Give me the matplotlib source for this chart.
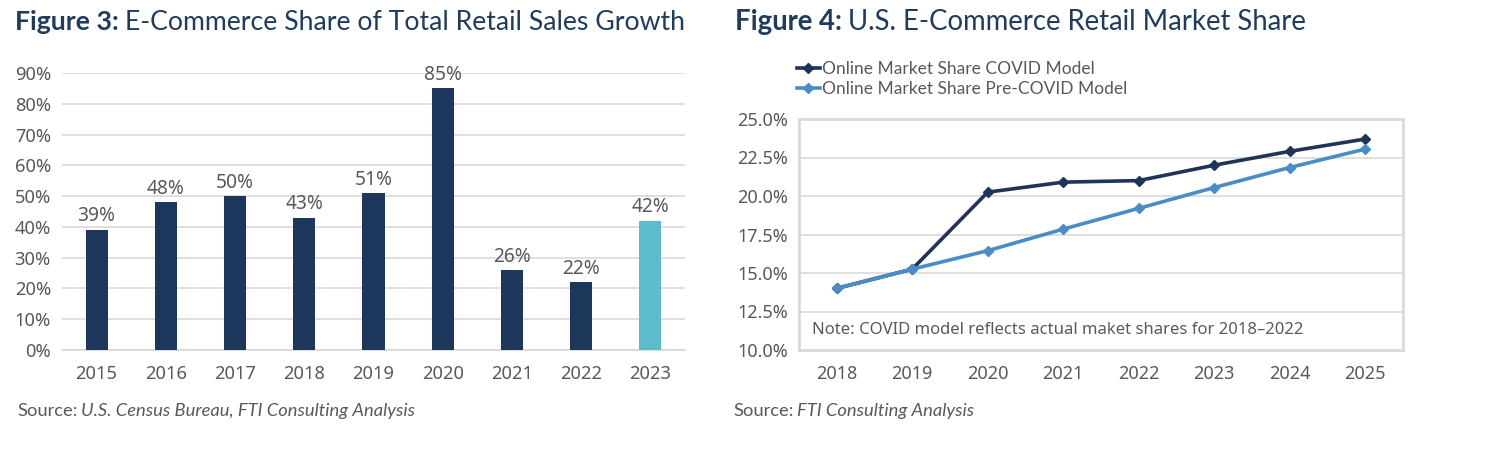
import matplotlib
matplotlib.use("Agg")
import matplotlib.pyplot as plt
from matplotlib.ticker import FuncFormatter, MultipleLocator

# ---- data ----
bar_years = ["2015", "2016", "2017", "2018", "2019", "2020", "2021", "2022", "2023"]
bar_values = [39, 48, 50, 43, 51, 85, 26, 22, 42]

line_years = ["2018", "2019", "2020", "2021", "2022", "2023", "2024", "2025"]
covid_model = [14.0, 15.25, 20.25, 20.9, 21.0, 22.0, 22.9, 23.7]
precovid_model = [14.0, 15.25, 16.45, 17.85, 19.2, 20.55, 21.85, 23.05]

NAVY = "#1d365c"
TEAL = "#5bbccd"
LIGHT = "#4a8cc3"
DARKLINE = "#1e3458"
TITLE_C = "#1f3b5e"
TXT = "#595959"
GRID = "#d9d9d9"

TICK_FONT = ["Noto Sans", "DejaVu Sans"]
TITLE_FONT = ["Lato", "DejaVu Sans"]

W, H = 1488, 462
fig = plt.figure(figsize=(W / 100, H / 100), dpi=100)


def fx(px):
    return px / W


def fy(py):
    return 1 - py / H


# ---- Figure 3: bars ----
ax1 = fig.add_axes([fx(62), fy(350), fx(685) - fx(62), fy(73) - fy(350)])
x1 = list(range(len(bar_years)))
colors = [NAVY] * (len(bar_years) - 1) + [TEAL]
ax1.bar(x1, [v / 100 for v in bar_values], width=0.32, color=colors, zorder=3)
for xi, v in zip(x1, bar_values):
    ax1.annotate(f"{v}%", (xi, v / 100), xytext=(0, 2.5), textcoords="offset points",
                 ha="center", va="bottom", fontsize=13.8, color=TXT, family=TICK_FONT)
ax1.set_xlim(-0.5, len(bar_years) - 0.5)
ax1.set_ylim(0, 0.9)
ax1.yaxis.set_major_locator(MultipleLocator(0.1))
ax1.yaxis.set_major_formatter(FuncFormatter(lambda v, p: f"{v*100:.0f}%"))
ax1.set_xticks(x1)
ax1.set_xticklabels(bar_years)
ax1.grid(axis="y", color=GRID, linewidth=1.2, zorder=0)
for s in ["top", "right", "left"]:
    ax1.spines[s].set_visible(False)
ax1.spines["bottom"].set_color(GRID)
ax1.spines["bottom"].set_linewidth(1.2)
ax1.tick_params(axis="both", length=0, labelsize=13.2, labelcolor=TXT)
ax1.tick_params(axis="x", pad=11)
ax1.tick_params(axis="y", pad=8)
for lab in ax1.get_xticklabels() + ax1.get_yticklabels():
    lab.set_family(TICK_FONT)

# ---- Figure 4: lines ----
ax2 = fig.add_axes([fx(799), fy(350), fx(1403) - fx(799), fy(119) - fy(350)])
x2 = list(range(len(line_years)))
ax2.plot(x2, precovid_model, color=LIGHT, linewidth=2.6, marker="D", markersize=5,
         label="Online Market Share Pre-COVID Model", zorder=3)
ax2.plot(x2, covid_model, color=DARKLINE, linewidth=2.6, marker="D", markersize=5,
         label="Online Market Share COVID Model", zorder=2)
ax2.plot(x2[:2], precovid_model[:2], color=LIGHT, linewidth=2.6, marker="D", markersize=5, zorder=4)
ax2.set_xlim(-0.5, len(line_years) - 0.5)
ax2.set_ylim(10, 25)
ax2.yaxis.set_major_locator(MultipleLocator(2.5))
ax2.yaxis.set_major_formatter(FuncFormatter(lambda v, p: f"{v:.1f}%"))
ax2.set_xticks(x2)
ax2.set_xticklabels(line_years)
ax2.grid(axis="y", color=GRID, linewidth=1.2, zorder=0)
for s in ax2.spines.values():
    s.set_color(GRID)
    s.set_linewidth(2)
ax2.tick_params(axis="both", length=0, labelsize=13, labelcolor=TXT)
ax2.tick_params(axis="x", pad=11)
ax2.tick_params(axis="y", pad=8)
for lab in ax2.get_xticklabels() + ax2.get_yticklabels():
    lab.set_family(TICK_FONT)
ax2.text(fx(812), fy(330), "Note: COVID model reflects actual maket shares for 2018\u20132022",
         transform=fig.transFigure, ha="left", va="center", fontsize=12, color=TXT,
         family=TICK_FONT)

handles, labels = ax2.get_legend_handles_labels()
order = [1, 0]
leg = fig.legend([handles[i] for i in order], [labels[i] for i in order],
                 loc="upper left", bbox_to_anchor=(fx(797), fy(61)), frameon=False,
                 handlelength=1.3, handletextpad=0.15, labelspacing=0.25, borderpad=0,
                 borderaxespad=0, prop={"family": TITLE_FONT, "size": 12.5})
for t in leg.get_texts():
    t.set_color(TXT)

# ---- titles ----
renderer = fig.canvas.get_renderer()


def two_part_title(x_px, y_px, bold, regular, size):
    t1 = fig.text(fx(x_px), fy(y_px), bold, fontsize=size, fontweight="bold",
                  color=TITLE_C, family=TITLE_FONT, ha="left", va="baseline")
    bb = t1.get_window_extent(renderer=renderer)
    fig.text(bb.x1 / W + fx(6), fy(y_px), regular, fontsize=size, color=TITLE_C,
             family=TITLE_FONT, ha="left", va="baseline")


two_part_title(15, 30, "Figure 3:", "E-Commerce Share of Total Retail Sales Growth", 19.2)
two_part_title(735, 30, "Figure 4:", "U.S. E-Commerce Retail Market Share", 19.8)


def source(x_px, y_px, italic, size=13.2):
    t1 = fig.text(fx(x_px), fy(y_px), "Source:", fontsize=size, color=TXT,
                  family=TITLE_FONT, ha="left", va="baseline")
    bb = t1.get_window_extent(renderer=renderer)
    fig.text(bb.x1 / W + fx(4), fy(y_px), italic, fontsize=size, color=TXT,
             style="italic", family=TITLE_FONT, ha="left", va="baseline")


source(17, 416, "U.S. Census Bureau, FTI Consulting Analysis")
source(733, 416, "FTI Consulting Analysis")

fig.savefig("out.png", dpi=100)
